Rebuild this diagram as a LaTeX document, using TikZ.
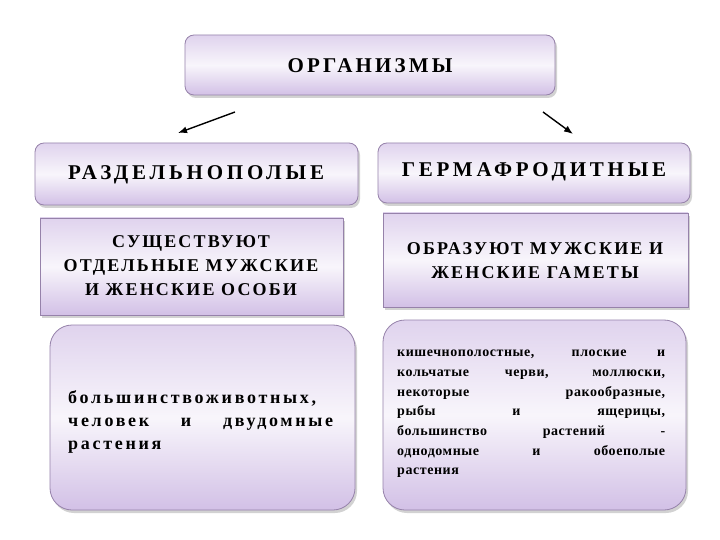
\documentclass[tikz,border=0pt]{standalone}
\usepackage{fontspec}
\setmainfont{Liberation Serif}
\usetikzlibrary{shadows,arrows.meta}
\definecolor{lav}{RGB}{210,192,230}
\definecolor{edge}{RGB}{150,130,170}
\tikzset{
  box/.style={draw=edge, line width=0.8pt, top color=white!30!lav, bottom color=lav, middle color=white!85!lav,
     drop shadow={shadow xshift=2pt, shadow yshift=-3pt, opacity=0.35}},
  rbox/.style={box, rounded corners=9pt},
  bigrbox/.style={box, rounded corners=22pt},
  lbl/.style={align=center},
  arr/.style={-{Latex[length=9pt,width=7pt]}, line width=1.4pt}
}
\newcommand{\myln}[1]{\makebox[268pt][s]{#1}}
\newcommand{\mylnb}[1]{\makebox[265pt][s]{#1}}
\begin{document}
\begin{tikzpicture}[x=1pt,y=-1pt]
\useasboundingbox (0,0) rectangle (720,540);
\fill[white] (0,0) rectangle (720,540);
\draw[rbox] (185,35) rectangle (555,95);
\node[lbl, font=\bfseries\fontsize{21}{24}\selectfont\addfontfeature{LetterSpace=15}] (org) at (370,66) {ОРГАНИЗМЫ};
\draw[rbox] (35,143) rectangle (358,205);
\node[lbl, font=\bfseries\fontsize{21}{24}\selectfont\addfontfeature{LetterSpace=18}] (raz) at (196,175) {РАЗДЕЛЬНОПОЛЫЕ};
\draw[rbox] (378,143) rectangle (690,203);
\node[lbl, font=\bfseries\fontsize{21}{24}\selectfont\addfontfeature{LetterSpace=18}] (ger) at (534,172) {ГЕРМАФРОДИТНЫЕ};
\draw[box] (40,218) rectangle (343,315);
\node[lbl, font=\bfseries\fontsize{18}{24}\selectfont\addfontfeature{LetterSpace=12}] (t1) at (191,266) {СУЩЕСТВУЮТ\\ОТДЕЛЬНЫЕ МУЖСКИЕ\\И ЖЕНСКИЕ ОСОБИ};
\draw[box] (383,213) rectangle (688,307);
\node[lbl, font=\bfseries\fontsize{18}{24}\selectfont\addfontfeature{LetterSpace=12}] (t2) at (535,261) {ОБРАЗУЮТ МУЖСКИЕ И\\ЖЕНСКИЕ ГАМЕТЫ};
\draw[bigrbox] (50,325) rectangle (355,510);
\node[font=\bfseries\fontsize{18}{23}\selectfont\addfontfeature{LetterSpace=15}, align=left, anchor=north west, inner sep=0pt] (b1) at (68,390)
 {\mylnb{большинствоживотных,}\\\mylnb{человек и двудомные}\\растения};
\draw[bigrbox] (383,320) rectangle (686,510);
\node[font=\bfseries\fontsize{14}{19.7}\selectfont\addfontfeature{LetterSpace=4}, align=left, anchor=north west, inner sep=0pt] (b2) at (397,350)
 {\myln{кишечнополостные, плоские и}\\\myln{кольчатые черви, моллюски,}\\\myln{некоторые ракообразные,}\\\myln{рыбы и ящерицы,}\\\myln{большинство растений -}\\\myln{однодомные и обоеполые}\\растения};
\coordinate (a1s) at (235,112); \coordinate (a1e) at (178,133);
\coordinate (a2s) at (543,112); \coordinate (a2e) at (573,134);
\draw[arr] (a1s) -- (a1e);
\draw[arr] (a2s) -- (a2e);
\end{tikzpicture}
\end{document}
